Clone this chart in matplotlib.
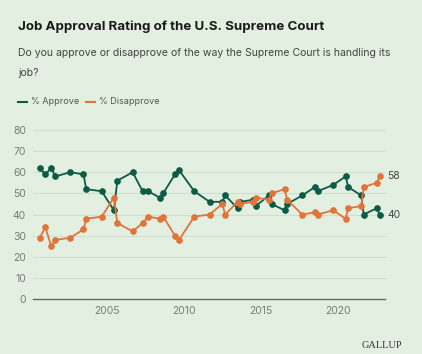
import matplotlib.pyplot as plt

plt.rcParams['font.family'] = ['Inter', 'DejaVu Sans']

# poll dates as fractional years
years = [2000.67, 2001.03, 2001.42, 2001.68, 2002.65, 2003.50, 2003.68, 2004.68,
         2005.47, 2005.69, 2006.68, 2007.33, 2007.69, 2008.43, 2008.66, 2009.42,
         2009.68, 2010.67, 2011.66, 2012.48, 2012.67, 2013.47, 2013.64, 2014.50,
         2014.64, 2015.50, 2015.67, 2016.51, 2016.68, 2017.65, 2018.47, 2018.65,
         2019.66, 2020.46, 2020.63, 2021.47, 2021.63, 2022.48, 2022.66]
approve = [62, 59, 62, 58, 60, 59, 52, 51, 42, 56, 60, 51, 51, 48, 50, 59,
           61, 51, 46, 46, 49, 43, 46, 47, 44, 49, 45, 42, 45, 49, 53, 51,
           54, 58, 53, 49, 40, 43, 40]
disapprove = [29, 34, 25, 28, 29, 33, 38, 39, 48, 36, 32, 36, 39, 38, 39, 30,
              28, 39, 40, 45, 40, 46, 45, 46, 48, 47, 50, 52, 47, 40, 41, 40,
              42, 38, 43, 44, 53, 55, 58]
yticks = [0, 10, 20, 30, 40, 50, 60, 70, 80]
xticks = [2005, 2010, 2015, 2020]

bg = '#E3F0E1'
green = '#0D5A45'
orange = '#E0743A'

fig = plt.figure(figsize=(4.22, 3.54), dpi=100, facecolor=bg)
ax = fig.add_axes([0.078, 0.155, 0.834, 0.478], facecolor=bg)

ax.plot(years, approve, color=green, lw=1.3, marker='o', ms=3.8, clip_on=False, zorder=3)
ax.plot(years, disapprove, color=orange, lw=1.3, marker='o', ms=3.8, clip_on=False, zorder=3)

ax.set_xlim(2000.23, 2023.0)
ax.set_ylim(0, 80)
ax.set_yticks(yticks)
ax.set_xticks(xticks)
for s in ax.spines.values():
    s.set_visible(False)
ax.axhline(0, color='#5f6b5f', lw=1.0, zorder=2, clip_on=False)
for v in yticks[1:]:
    ax.axhline(v, color='#d0dfcd', lw=0.8, zorder=1, clip_on=False)
ax.tick_params(length=0, labelsize=7.5, labelcolor='#7a7a7a')
ax.tick_params(axis='y', pad=5)
ax.tick_params(axis='x', pad=5)

ax.text(2023.15, disapprove[-1], str(disapprove[-1]), color='#444444', fontsize=7.5,
        va='center', ha='left')
ax.text(2023.15, approve[-1], str(approve[-1]), color='#444444', fontsize=7.5,
        va='center', ha='left')

fig.text(18 / 422, 1 - 27 / 354, 'Job Approval Rating of the U.S. Supreme Court',
         fontsize=9.6, fontweight='bold', color='#1a1a1a', va='center', ha='left')
fig.text(18 / 422, 1 - 63 / 354,
         'Do you approve or disapprove of the way the Supreme Court is handling its\njob?',
         fontsize=7.55, color='#444444', va='center', ha='left', linespacing=2.25)

# legend
ly = 1 - 102 / 354
fig.lines.append(plt.Line2D([18 / 422, 27 / 422], [ly, ly], color=green, lw=1.5,
                            transform=fig.transFigure))
fig.text(31 / 422, ly, '% Approve', fontsize=6.5, color='#555555', va='center')
fig.lines.append(plt.Line2D([86 / 422, 95 / 422], [ly, ly], color=orange, lw=1.5,
                            transform=fig.transFigure))
fig.text(99 / 422, ly, '% Disapprove', fontsize=6.5, color='#555555', va='center')

fig.text(402 / 422, 1 - 345 / 354, 'GALLUP', fontsize=7.5, family='Liberation Serif',
         color='#333333', ha='right', va='center')

fig.savefig('out.png', dpi=100, facecolor=bg)
